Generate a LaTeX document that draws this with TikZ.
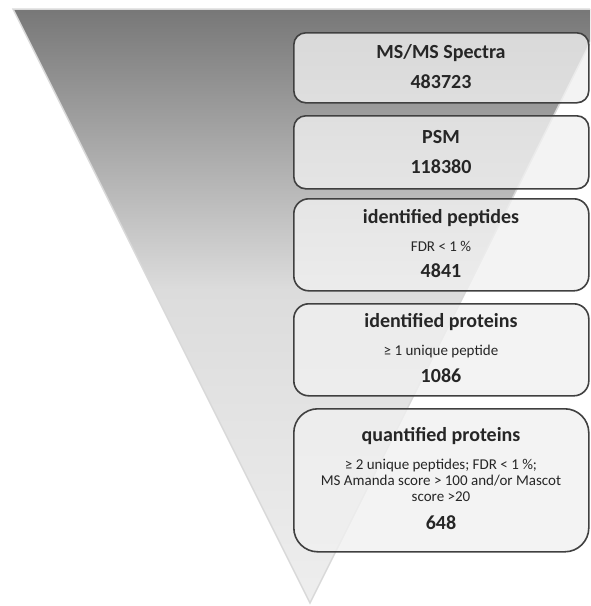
\documentclass[tikz,border=0pt]{standalone}
\usepackage{fontspec}
\setmainfont{Carlito}

\definecolor{funneltop}{HTML}{777777}
\definecolor{funnelmid}{HTML}{DCDCDC}
\definecolor{funnelbottom}{HTML}{EEEEEE}
\definecolor{funnelline}{HTML}{D9D9D9}
\definecolor{boxline}{HTML}{404040}
\definecolor{boxfill}{HTML}{F0F0F0}
\definecolor{labeltext}{HTML}{262626}

\tikzset{
    stagebox/.style={draw=boxline, line width=1.6pt, fill=boxfill, fill opacity=0.8,
        rounded corners=#1, minimum width=295pt, inner sep=0pt, anchor=north west},
    stagebox/.default=12pt,
    headtext/.style={font=\fontsize{20}{24}\selectfont\bfseries, text=labeltext, inner sep=0pt, anchor=base},
    counttext/.style={headtext},
    condtext/.style={font=\fontsize{15}{17}\selectfont, text=labeltext, inner sep=0pt, anchor=base}
}

\begin{document}
\begin{tikzpicture}[x=1pt,y=-1pt]
    \useasboundingbox (0,0) rectangle (590,606);

    % funnel: dark top fading out, slowly lighter below
    \begin{scope}
        \clip (0,0) rectangle (590,606);
        \begin{scope}
            \clip (13,9) -- (607,9) -- (310,603) -- cycle;
            \shade[top color=funneltop, bottom color=funnelmid] (0,8) rectangle (610,290);
            \shade[top color=funnelmid, bottom color=funnelbottom] (0,290) rectangle (610,604);
        \end{scope}
        \draw[funnelline, line width=1.5pt] (13,9) -- (607,9) -- (310,603) -- cycle;
    \end{scope}

    \begin{scope}
        \node[stagebox] (spectra) at (293,32) [minimum height=70pt] {};
        \node[stagebox] (psm) at (293,115) [minimum height=73pt] {};
        \node[stagebox=15pt] (peptides) at (293,198) [minimum height=92pt] {};
        \node[stagebox=15pt] (proteins) at (293,303) [minimum height=92pt] {};
        \node[stagebox=24pt] (quantified) at (293,408) [minimum height=143pt] {};
    \end{scope}

    \begin{scope}
        \node[headtext] (spectra-head) at (441,58) {MS/MS Spectra};
        \node[counttext] (spectra-count) at (441,88) {483723};

        \node[headtext] (psm-head) at (441,143) {PSM};
        \node[counttext] (psm-count) at (441,173) {118380};

        \node[headtext] (peptides-head) at (441,223) {identified peptides};
        \node[condtext] (peptides-cond) at (441,251) {FDR < 1 \%};
        \node[counttext] (peptides-count) at (441,277) {4841};

        \node[headtext] (proteins-head) at (441,327) {identified proteins};
        \node[condtext] (proteins-cond) at (441,355) {≥ 1 unique peptide};
        \node[counttext] (proteins-count) at (441,382) {1086};

        \node[headtext] (quantified-head) at (441,441) {quantified proteins};
        \node[condtext] (quantified-cond1) at (441,469) {≥ 2 unique peptides; FDR < 1 \%;};
        \node[condtext] (quantified-cond2) at (441,485) {MS Amanda score > 100 and/or Mascot};
        \node[condtext] (quantified-cond3) at (441,501) {score >20};
        \node[counttext] (quantified-count) at (441,529) {648};
    \end{scope}
\end{tikzpicture}
\end{document}
